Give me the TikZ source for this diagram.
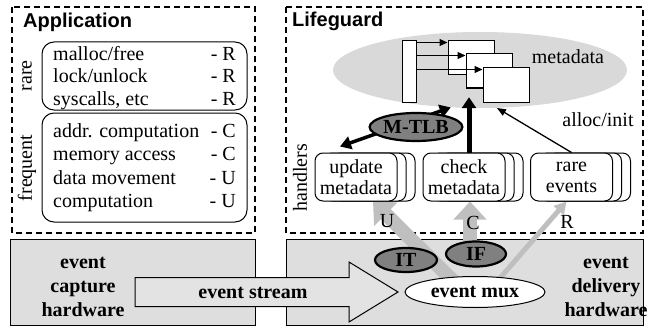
\documentclass[tikz,border=0pt]{standalone}
\usepackage{fontspec}
\setmainfont{Liberation Serif}
\setsansfont{Liberation Sans}
\usepackage{tikz}
\usetikzlibrary{arrows.meta}
\usetikzlibrary{shapes.geometric}

\pgfdeclarelayer{boxes}
\pgfdeclarelayer{feeds}
\pgfsetlayers{boxes,feeds,main}

\tikzset{
  dashbox/.style={draw,dash pattern=on 6pt off 4pt,line width=1.1pt},
  hwbox/.style={draw,fill=black!13,line width=1pt,inner sep=0pt},
  grpbox/.style={draw,rounded corners=12pt,line width=1pt,minimum width=205pt,inner sep=0pt},
  hstack/.style={draw,fill=white,rounded corners=8pt,line width=1pt,minimum width=82pt,minimum height=48pt,
    align=center,inner sep=0pt,font=\fontsize{20}{21}\selectfont},
  darkell/.style={ellipse,draw,fill=black!50,line width=2.2pt,inner sep=0pt,font=\fontsize{20}{24}\selectfont\bfseries},
  grayfeed/.style={draw=black!25,line width=14pt,-{Triangle[width=32pt,length=18pt]}},
  pagebox/.style={draw,fill=white,line width=1pt,minimum width=46pt,minimum height=34pt,inner sep=0pt},
  hdrtext/.style={anchor=base west,inner sep=0pt,font=\fontsize{20}{24}\selectfont\sffamily\bfseries},
  hwtext/.style={align=center,inner sep=0pt,font=\fontsize{20}{24}\selectfont\bfseries}
}

\begin{document}
\begin{tikzpicture}[x=1pt,y=-1pt,font=\fontsize{20}{24}\selectfont]
  \useasboundingbox (0,0) rectangle (648,329);

  \begin{pgfonlayer}{boxes}
    \draw[dashbox] (12,7) rectangle (255,233);
    \draw[dashbox] (286,7) rectangle (643,233);
    \node[hwbox,minimum width=245pt,minimum height=86pt] (caphw) at (132.5,282) {};
    \node[hwbox,minimum width=357pt,minimum height=86pt] (delhw) at (464.5,282) {};
  \end{pgfonlayer}

  % application
  \node[hdrtext] (app) at (23,28) {Application};
  \node[grpbox,minimum height=68pt] (grpR) at (144.5,76) {};
  \node[grpbox,minimum height=109pt] (grpF) at (144.5,167.5) {};
  \node[rotate=90] (rarelbl) at (27,76) {rare};
  \node[rotate=90] (freqlbl) at (27,168) {frequent};
  \foreach \t/\c/\y [count=\i] in {{malloc/free}/R/60,{lock/unlock}/R/83,{syscalls, etc}/R/106,
      {addr. computation}/C/137,{memory access}/C/160.5,{data movement}/U/184,{computation}/U/207.5} {
    \node[anchor=base west,inner sep=0pt] (ev\i) at (53,\y) {\t};
    \node[anchor=base east,inner sep=0pt] (cls\i) at (236,\y) {- \c};
  }

  % lifeguard
  \node[hdrtext] (lg) at (292,27) {Lifeguard};
  \node[ellipse,fill=black!15,minimum width=294pt,minimum height=76pt] (meta) at (480,70) {};
  \node (metalbl) at (568,57) {metadata};
  \node[pagebox,minimum width=14pt,minimum height=61pt] (tbl) at (409,71.5) {};
  \foreach \i/\x/\y in {1/471/58,2/489/71,3/506/85}
    \node[pagebox] (pg\i) at (\x,\y) {};
  \foreach \i in {1,2,3} {
    \path ([yshift=-2pt]pg\i.north west) coordinate (in\i);
    \draw[line width=1.2pt,-{Triangle[width=7pt,length=8pt]}] (tbl.east |- in\i) -- (in\i);
  }

  \node[rotate=90] (hlbl) at (300,178) {handlers};
  \foreach \nm/\cx/\txt in {upd/356/{update\\metadata},chk/464/{check\\metadata},rev/571.5/{rare\\events}} {
    \foreach \s in {18,9}
      \node[hstack] (\nm\s) at (\cx+\s,177) {};
    \node[hstack] (\nm) at (\cx,177) {\txt};
  }

  \draw[line width=3.5pt,{Triangle[width=13pt,length=11pt]}-{Triangle[width=13pt,length=11pt]}]
    ([xshift=-16pt,yshift=6pt]upd.north) -- (meta.232);
  \path ([xshift=5pt]chk.north) coordinate (cup);
  \draw[line width=5pt,-{Triangle[width=14pt,length=11pt]},shorten >=-11pt] (cup) -- (cup |- meta.south);
  \node[darkell,minimum width=88pt,minimum height=28pt] (mtlb) at (416,127) {M-TLB};
  \draw[line width=1.3pt,-{Triangle[width=7pt,length=9pt]}] (rev.north) -- (meta.294);
  \node (alloc) at (598,120) {alloc/init};

  % hardware
  \node[hwtext] (caplbl) at (83,287) {event\\capture\\hardware};
  \node[hwtext] (dellbl) at (606,287) {event\\delivery\\hardware};
  \draw[fill=black!11,line width=1pt] (135,277.5) -- (349,277.5) -- (349,262) -- (398,292)
    -- (349,322) -- (349,306.5) -- (135,306.5) -- cycle;
  \node[font=\fontsize{20}{24}\selectfont\bfseries] (stream) at (253,293) {event stream};
  \node[darkell,minimum width=62pt,minimum height=24pt] (IT) at (406,260) {IT};
  \node[darkell,minimum width=60pt,minimum height=25pt] (IF) at (476,254) {IF};
  \node[ellipse,draw,fill=white,line width=1pt,minimum width=140pt,minimum height=31pt,inner sep=0pt,
    font=\fontsize{20}{24}\selectfont\bfseries] (mux) at (475,292) {event mux};

  \begin{pgfonlayer}{feeds}
    \draw[grayfeed,shorten <=-6pt] (mux.150) -- ([xshift=17pt]upd.south);
    \path ([xshift=6pt]chk.south) coordinate (cdn);
    \draw[grayfeed] (cdn |- IF.center) -- (cdn);
    \draw[draw=black!25,line width=5pt,-{Triangle[width=13pt,length=12pt]},shorten <=-3pt]
      (mux.30) -- ([xshift=-5pt]rev.south);
  \end{pgfonlayer}
  \node (ulbl) at (387,221) {U};
  \node (clbl) at (473,223) {C};
  \node (rlbl) at (567,222) {R};
\end{tikzpicture}
\end{document}
